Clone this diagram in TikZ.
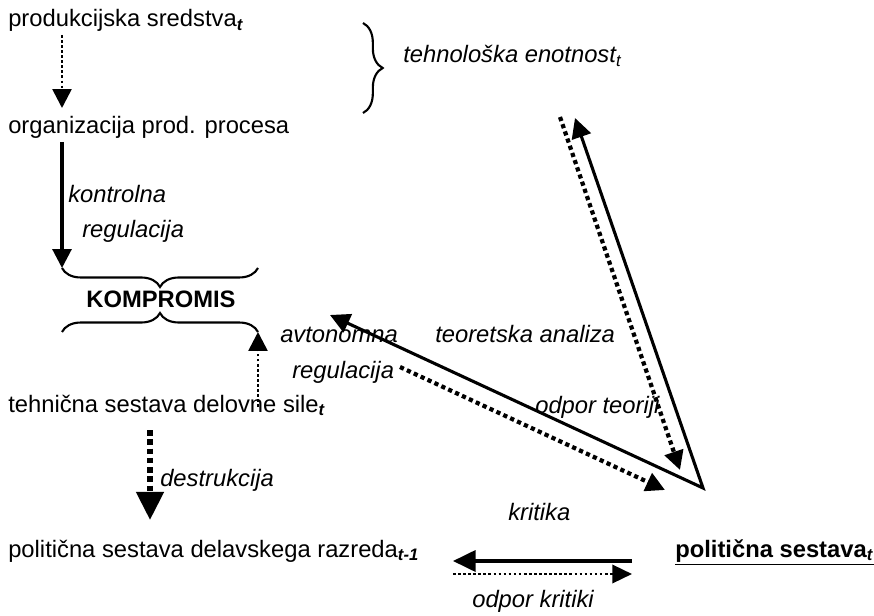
\documentclass[tikz,border=0pt]{standalone}
\usepackage{fontspec}
\setmainfont{Liberation Sans}
\usetikzlibrary{arrows.meta,decorations.pathreplacing,calc}

\newcommand{\tsub}[1]{\textsubscript{\textbf{\textit{#1}}}}
\newcommand{\txtsize}{\fontsize{16.9}{20}\selectfont}

\begin{document}
\begin{tikzpicture}[
    x=0.025cm, y=-0.025cm,
    txt/.style={anchor=base west, inner sep=0pt, font=\txtsize},
    lbl/.style={txt, font=\txtsize\itshape},
    head/.style={-{Triangle[length=13.5pt, width=13.5pt]}},
    solidarr/.style={head, line width=2.2pt},
    dotarr/.style={head, line width=1.9pt, dash pattern=on 1.9pt off 1.7pt},
    bigdot/.style={head, line width=3pt, dash pattern=on 3pt off 2.4pt},
    brc/.style={decorate, line width=1.5pt, decoration={brace, amplitude=13.5pt}},
]
    \path[fill=white] (0,0) rectangle (874,616);
    \useasboundingbox (0,0) rectangle (874,616);

    % main column
    \node[txt] (prod) at (8,27) {produkcijska sredstva\tsub{t}};
    \node[txt] (org) at (8,134) {organizacija prod. procesa};
    \node[txt, anchor=base, font=\txtsize\bfseries] (komp) at (161,308) {KOMPROMIS};
    \node[txt] (tehn) at (8,412) {tehnična sestava delovne sile\tsub{t}};
    \node[txt] (pol) at (8,557) {politična sestava delavskega razreda\tsub{t-1}};
    \node[txt, font=\txtsize\bfseries] (polt) at (675,557) {\underline{politična sestava\textsubscript{\textit{t}}}};

    % labels
    \node[lbl] (enot) at (403,63) {tehnološka enotnost\textsubscript{t}};
    \node[lbl] (kontr) at (68,203) {kontrolna};
    \node[lbl] (kreg) at (82,238) {regulacija};
    \node[lbl] (avto) at (280,343) {avtonomna};
    \node[lbl] (areg) at (292,378) {regulacija};
    \node[lbl] (teor) at (435,343) {teoretska analiza};
    \node[lbl] (odteo) at (535,413) {odpor teoriji};
    \node[lbl] (destr) at (160,486) {destrukcija};
    \node[lbl] (krit) at (508,520) {kritika};
    \node[lbl] (odkr) at (472,607) {odpor kritiki};

    \coordinate (topL) at (62,268);
    \coordinate (topR) at (258,268);
    \coordinate (botL) at (62,332);
    \coordinate (botR) at (258,332);
    \coordinate (brT) at (363,23);
    \coordinate (brB) at (363,113);
    \coordinate (v) at (703,488);
    \coordinate (teoA) at (575,118);
    \coordinate (teoB) at (560,117);
    \coordinate (teoC) at (680,470);
    \coordinate (avA) at (330,315);
    \coordinate (avB) at (400,367);
    \coordinate (avC) at (665,490);

    % braces
    \draw[brc, decoration={mirror}] (topL) -- (topR);
    \draw[brc] (botL) -- (botR);
    \draw[brc, decoration={amplitude=14pt}] (brT) -- (brB);

    % left arrows
    \draw[dotarr] ($(prod.base west)+(54,8)$) -- ($(org.base west)+(54,-26)$);
    \draw[solidarr] ($(org.base west)+(54,8)$) -- (topL);
    \draw[dotarr] ($(tehn.base west)+(250,-5)$) -- (botR);
    \draw[-{Triangle[length=20pt, width=19pt]}, line width=4pt, dash pattern=on 4pt off 2.6pt]
        ($(tehn.base west)+(142,18)$) -- ($(pol.base west)+(142,-37)$);

    % right arrows
    \draw[line width=2.2pt, {Triangle[length=14pt, width=14pt]}-{Triangle[length=14pt, width=14pt]}]
        (avA) -- (v) -- (teoA);
    \draw[bigdot] (teoB) -- (teoC);
    \draw[bigdot] (avB) -- (avC);

    % bottom arrows
    \draw[line width=2.2pt, -{Triangle[length=16pt, width=15pt]}]
        ($(polt.base west)+(-43,4)$) -- ($(polt.base west)+(-222,4)$);
    \draw[dotarr, -{Triangle[length=14pt, width=13pt]}]
        ($(polt.base west)+(-222,17)$) -- ($(polt.base west)+(-43,17)$);
\end{tikzpicture}
\end{document}
